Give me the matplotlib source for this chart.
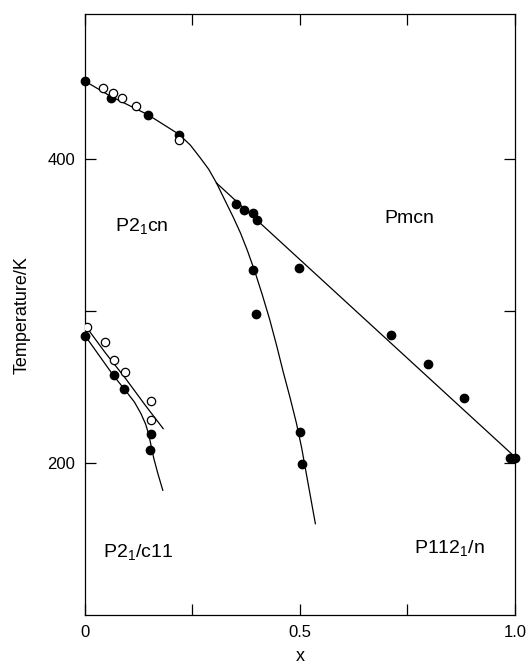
import matplotlib
matplotlib.use("Agg")
import matplotlib.pyplot as plt

plt.rcParams['font.family'] = ['Liberation Sans', 'DejaVu Sans']
plt.rcParams['mathtext.fontset'] = 'custom'
plt.rcParams['mathtext.rm'] = 'Liberation Sans'

# filled circles
filled_x = [0.0, 0.060, 0.146, 0.219, 0.351, 0.369, 0.391, 0.400, 0.391, 0.399,
            0.498, 0.711, 0.797, 0.881, 0.988, 1.0, 0.501, 0.505,
            0.0, 0.067, 0.091, 0.153, 0.152]
filled_T = [451, 440, 429, 415.5, 370, 366.5, 364.5, 360, 327, 298,
            328, 284, 265, 243, 203.5, 203.5, 220, 199,
            283.5, 257.5, 248.5, 219, 208.5]

# open circles
open_x = [0.043, 0.066, 0.086, 0.119, 0.219,
          0.004, 0.047, 0.067, 0.093, 0.153, 0.153]
open_T = [446.5, 443, 440, 435, 412.5,
          289.5, 279.5, 267.5, 259.5, 240.5, 228.5]

# phase boundaries
upper_x = [0.0, 0.06, 0.146, 0.219, 0.245, 0.267, 0.288, 0.306]
upper_T = [451, 441, 429, 416, 409, 401, 393, 384]
pmcn_x = [0.306, 1.0]
pmcn_T = [384, 204]
steep_x = [0.306, 0.325, 0.345, 0.362, 0.378, 0.395, 0.412, 0.430, 0.446, 0.461,
           0.477, 0.492, 0.504, 0.520, 0.536]
steep_T = [384, 373, 361.5, 351, 339.5, 326, 311, 294, 277, 260,
           243, 226, 210, 185, 160]
low_open_x = [0.004, 0.047, 0.093, 0.140, 0.182]
low_open_T = [289, 272.5, 256, 238, 222.5]
low_fill_x = [0.0, 0.066, 0.093, 0.115, 0.130, 0.141, 0.148, 0.154, 0.160, 0.170, 0.181]
low_fill_T = [283.7, 257.5, 248, 240, 232.5, 225.5, 219, 211, 203, 192.5, 182]

phase_labels = ["P2$_1$cn", "Pmcn", "P2$_1$/c11", "P112$_1$/n"]
phase_x = [0.133, 0.754, 0.123, 0.849]
phase_T = [355, 361, 141, 143.5]

fig = plt.figure(figsize=(5.28, 6.66), dpi=100)
ax = fig.add_axes([0.161, 0.0766, 0.814, 0.902])

lw = 0.9
for xs, ts in [(upper_x, upper_T), (pmcn_x, pmcn_T), (steep_x, steep_T),
               (low_open_x, low_open_T), (low_fill_x, low_fill_T)]:
    ax.plot(xs, ts, color='black', lw=lw, zorder=2, solid_joinstyle='round')

ax.plot(filled_x, filled_T, 'o', color='black', ms=6, zorder=3, clip_on=False)
ax.plot(open_x, open_T, 'o', mfc='white', mec='black', mew=0.9, ms=6, zorder=3)

for lab, x, t in zip(phase_labels, phase_x, phase_T):
    ax.text(x, t, lab, fontsize=14, ha='center', va='center')

ax.set_xlim(0, 1.0)
ax.set_ylim(100, 495)
ax.set_xticks([0, 0.25, 0.5, 0.75, 1.0])
ax.set_xticklabels(["0", "", "0.5", "", "1.0"])
ax.set_yticks([200, 300, 400])
ax.set_yticklabels(["200", "", "400"])
ax.tick_params(direction='in', length=8, width=0.9, top=True, right=True,
               labelsize=12, pad=7)
for sp in ax.spines.values():
    sp.set_linewidth(0.9)

ax.set_xlabel("x", fontsize=13, labelpad=6)
ax.set_ylabel("Temperature/K", fontsize=13, labelpad=12)

fig.savefig("out.png", dpi=100)
